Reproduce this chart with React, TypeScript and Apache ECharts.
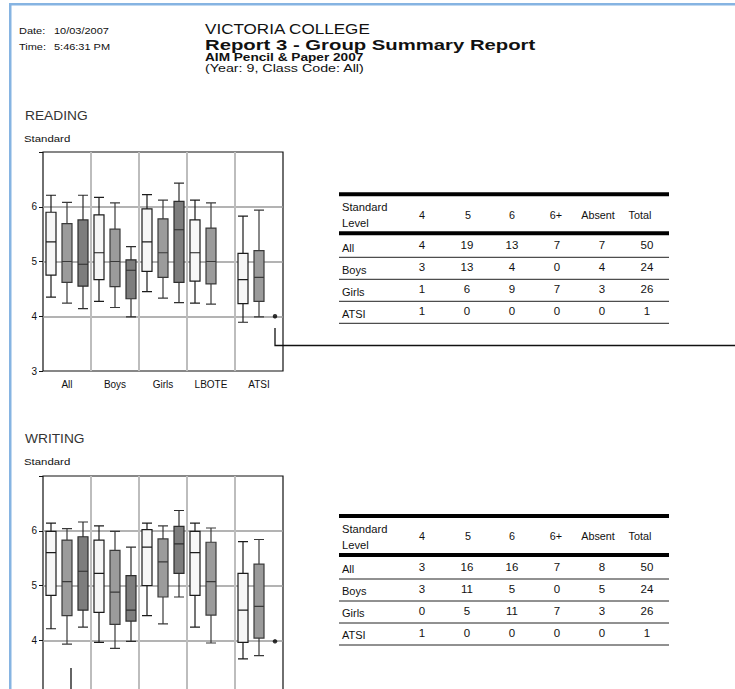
import React, { useEffect, useRef } from "react";
import * as echarts from "echarts";

// ---------- data ----------
const groups = ["All", "Boys", "Girls", "LBOTE", "ATSI"];
const yMin = 3;
const yMax = 7;

// [min, Q1, median, Q3, max] per group
const readingWhite = [
  [4.35, 4.75, 5.36, 5.9, 6.21],
  [4.27, 4.67, 5.16, 5.85, 6.17],
  [4.45, 4.82, 5.36, 5.96, 6.22],
  [4.24, 4.64, 5.16, 5.76, 6.12],
  [3.89, 4.23, 4.67, 5.15, 5.83],
];
const readingMid = [
  [4.24, 4.62, 5.0, 5.69, 6.08],
  [4.16, 4.54, 5.0, 5.59, 6.07],
  [4.33, 4.71, 5.16, 5.78, 6.12],
  [4.22, 4.59, 5.0, 5.61, 6.07],
  [3.99, 4.27, 4.71, 5.2, 5.94],
];
const readingDark = [
  [4.14, 4.55, 4.95, 5.76, 6.21],
  [3.99, 4.32, 4.84, 5.03, 5.27],
  [4.25, 4.62, 5.58, 6.1, 6.43],
  null,
  null,
];
const readingOutlier = 4.0;

const writingWhite = [
  [4.21, 4.82, 5.6, 5.99, 6.14],
  [3.96, 4.51, 5.22, 5.83, 6.09],
  [4.45, 5.0, 5.7, 6.02, 6.14],
  [4.24, 4.82, 5.6, 5.99, 6.14],
  [3.66, 3.96, 4.55, 5.22, 5.8],
];
const writingMid = [
  [3.93, 4.45, 5.07, 5.83, 6.04],
  [3.85, 4.29, 4.88, 5.64, 5.99],
  [4.3, 4.79, 5.43, 5.85, 6.09],
  [3.95, 4.46, 5.07, 5.79, 6.05],
  [3.72, 4.04, 4.62, 5.39, 5.84],
];
const writingDark = [
  [4.24, 4.55, 5.26, 5.89, 6.16],
  [3.98, 4.35, 4.55, 5.18, 5.7],
  [4.79, 5.22, 5.76, 6.08, 6.37],
  null,
  null,
];
const writingOutlier = 3.98;

const tableHeader = ["Standard", "Level"];
const tableCols = ["4", "5", "6", "6+", "Absent", "Total"];
const tableRows = ["All", "Boys", "Girls", "ATSI"];
const readingCounts = [
  [4, 19, 13, 7, 7, 50],
  [3, 13, 4, 0, 4, 24],
  [1, 6, 9, 7, 3, 26],
  [1, 0, 0, 0, 0, 1],
];
const writingCounts = [
  [3, 16, 16, 7, 8, 50],
  [3, 11, 5, 0, 5, 24],
  [0, 5, 11, 7, 3, 26],
  [1, 0, 0, 0, 0, 1],
];

const dateLabel = "Date:";
const dateValue = "10/03/2007";
const timeLabel = "Time:";
const timeValue = "5:46:31 PM";
const school = "VICTORIA COLLEGE";
const reportTitle = "Report 3 - Group Summary Report";
const subTitle = "AIM Pencil & Paper 2007";
const subInfo = "(Year: 9, Class Code: All)";
const sections = ["READING", "WRITING"];
const yName = "Standard";

// ---------- styling ----------
const FONT = '"Liberation Sans", Arial, sans-serif';
const W = 735;
const H = 689;
const CANVAS_H = 725; // the lower chart runs past the bottom of the page

const slots: string[] = [];
groups.forEach((g) => [0, 1, 2].forEach((k) => slots.push(g + "_" + k)));

const boxStyles = [
  { color: "#f7f7f7", borderColor: "#1c1c1c" },
  { color: "#9b9b9b", borderColor: "#3a3a3a" },
  { color: "#7d7d7d", borderColor: "#2e2e2e" },
];

function slotData(white: any[], mid: any[], dark: any[]) {
  const out: any[] = [];
  for (let g = 0; g < groups.length; g++) {
    [white[g], mid[g], dark[g]].forEach((v, k) => {
      out.push(v ? { value: v, itemStyle: boxStyles[k] } : "-");
    });
  }
  return out;
}

function txt(x: number, y: number, s: string, size: number, opt: any = {}) {
  return {
    type: "text",
    x,
    y,
    scaleX: opt.scaleX ?? 1,
    silent: true,
    style: {
      text: s,
      fontSize: size,
      fontFamily: FONT,
      fontWeight: opt.bold ? "bold" : "normal",
      fill: opt.color ?? "#111",
      textAlign: opt.align ?? "left",
      textVerticalAlign: "middle",
    },
  };
}

function hline(x1: number, x2: number, y: number, w: number, color = "#111") {
  return {
    type: "line",
    silent: true,
    shape: { x1, y1: y, x2, y2: y },
    style: { stroke: color, lineWidth: w },
  };
}

const tableLeft = 339;
const tableRight = 669;
const headerX = [422, 468, 512, 556, 598, 640];
const valueX = [422, 467, 512, 557, 602, 647];

function buildTable(y0: number, counts: number[][]) {
  const els: any[] = [];
  els.push(hline(tableLeft, tableRight, y0, 4, "#000"));
  els.push(txt(342, y0 + 13, tableHeader[0], 10, { scaleX: 1.12 }));
  els.push(txt(342, y0 + 29, tableHeader[1], 10, { scaleX: 1.12 }));
  tableCols.forEach((c, i) => {
    els.push(txt(headerX[i], y0 + 21, c, 10, { align: "center", scaleX: 1.08 }));
  });
  els.push(hline(tableLeft, tableRight, y0 + 39, 4, "#000"));
  const lines = [y0 + 63, y0 + 85, y0 + 107, y0 + 129];
  const tops = [y0 + 41, y0 + 63, y0 + 85, y0 + 107];
  tableRows.forEach((r, ri) => {
    const cy = (tops[ri] + lines[ri]) / 2 + 0.5;
    els.push(txt(342, cy + 1, r, 10, { scaleX: 1.1 }));
    counts[ri].forEach((v, ci) => {
      els.push(txt(valueX[ci], cy - 1.5, String(v), 10, { align: "center", scaleX: 1.15 }));
    });
    els.push(hline(tableLeft, tableRight, lines[ri], 1, "#222"));
  });
  return els;
}

const gridTops = [152, 476];
const plotH = 219;

export default function App() {
  const ref = useRef<HTMLDivElement>(null);
  useEffect(() => {
    document.body.style.margin = "0";
    document.body.style.overflow = "hidden";
    document.documentElement.style.overflow = "hidden";
    if (!ref.current) return;
    const chart = echarts.init(ref.current, undefined, { renderer: "svg" });

    const grid: any[] = [];
    const xAxis: any[] = [];
    const yAxis: any[] = [];
    const series: any[] = [];
    const sets = [
      { white: readingWhite, mid: readingMid, dark: readingDark, out: readingOutlier },
      { white: writingWhite, mid: writingMid, dark: writingDark, out: writingOutlier },
    ];
    sets.forEach((s, i) => {
      // the lower chart's bottom edge lies below the page, so its
      // bottom labels are not shown (as in the reference)
      const offPage = gridTops[i] + plotH > H;
      grid.push({
        left: 43,
        top: gridTops[i],
        width: 240,
        height: plotH,
        show: true,
        borderColor: "#111",
        borderWidth: 1.2,
        backgroundColor: "transparent",
      });
      xAxis.push({
        type: "category",
        gridIndex: i,
        data: slots,
        show: false,
        boundaryGap: true,
      });
      xAxis.push({
        type: "category",
        gridIndex: i,
        data: groups,
        position: "bottom",
        boundaryGap: true,
        axisLine: { show: false },
        axisTick: { show: false },
        axisLabel: { show: !offPage, interval: 0, fontSize: 10, color: "#111", margin: 8, fontFamily: FONT },
        splitLine: {
          show: true,
          interval: 0,
          showMinLine: false,
          showMaxLine: false,
          lineStyle: { color: "#bdbdbd", width: 2 },
        },
      });
      yAxis.push({
        type: "value",
        gridIndex: i,
        min: yMin,
        max: yMax,
        interval: 1,
        axisLine: { show: false },
        axisTick: { show: true, length: 4, lineStyle: { color: "#111" } },
        axisLabel: {
          fontSize: 10,
          color: "#111",
          margin: 6,
          fontFamily: FONT,
          formatter: (v: number) =>
            v === yMax || (offPage && v === yMin) ? "" : String(v),
        },
        splitLine: {
          show: true,
          showMinLine: false,
          showMaxLine: false,
          lineStyle: { color: "#9a9a9a", width: 1.5 },
        },
      });
      series.push({
        type: "boxplot",
        xAxisIndex: i * 2,
        yAxisIndex: i,
        boxWidth: [10, 10],
        itemStyle: { borderWidth: 1.2 },
        emphasis: { disabled: true },
        data: slotData(s.white, s.mid, s.dark),
      });
      series.push({
        type: "scatter",
        xAxisIndex: i * 2,
        yAxisIndex: i,
        symbolSize: 4.5,
        itemStyle: { color: "#000" },
        data: [[slots[slots.length - 1], s.out]],
      });
    });

    const graphic: any[] = [
      { type: "rect", silent: true, shape: { x: 9, y: 3, width: W - 9, height: 2.5 }, style: { fill: "#86b4e2" } },
      { type: "rect", silent: true, shape: { x: 9, y: 3, width: 2.5, height: CANVAS_H - 3 }, style: { fill: "#86b4e2" } },
      txt(19, 31, dateLabel, 9, { scaleX: 1.22 }),
      txt(54, 31, dateValue, 9, { scaleX: 1.22 }),
      txt(19, 47, timeLabel, 9, { scaleX: 1.22 }),
      txt(54, 47, timeValue, 9, { scaleX: 1.22 }),
      txt(205, 29, school, 14, { scaleX: 1.22 }),
      txt(205, 44.5, reportTitle, 15.5, { bold: true, scaleX: 1.31 }),
      txt(205, 57.5, subTitle, 10.5, { bold: true, scaleX: 1.3 }),
      txt(205, 68.5, subInfo, 10.5, { scaleX: 1.36 }),
      txt(25, 116, sections[0], 12.5, { scaleX: 1.1, color: "#333" }),
      txt(24, 139, yName, 9.5, { scaleX: 1.2 }),
      txt(25, 439, sections[1], 12.5, { scaleX: 1.1, color: "#333" }),
      txt(24, 462, yName, 9.5, { scaleX: 1.2 }),
      ...buildTable(194.3, readingCounts),
      ...buildTable(516, writingCounts),
      {
        type: "polyline",
        silent: true,
        shape: { points: [[275, 328], [275, 345.5], [W, 345.5]] },
        style: { stroke: "#111", lineWidth: 1.3, fill: null },
      },
      {
        type: "line",
        silent: true,
        shape: { x1: 71, y1: 668, x2: 71, y2: CANVAS_H },
        style: { stroke: "#111", lineWidth: 1.3 },
      },
    ];

    chart.setOption({
      animation: false,
      backgroundColor: "#fff",
      grid,
      xAxis,
      yAxis,
      series,
      graphic,
    });
    return () => chart.dispose();
  }, []);
  return <div ref={ref} style={{ width: W, height: CANVAS_H }} />;
}
